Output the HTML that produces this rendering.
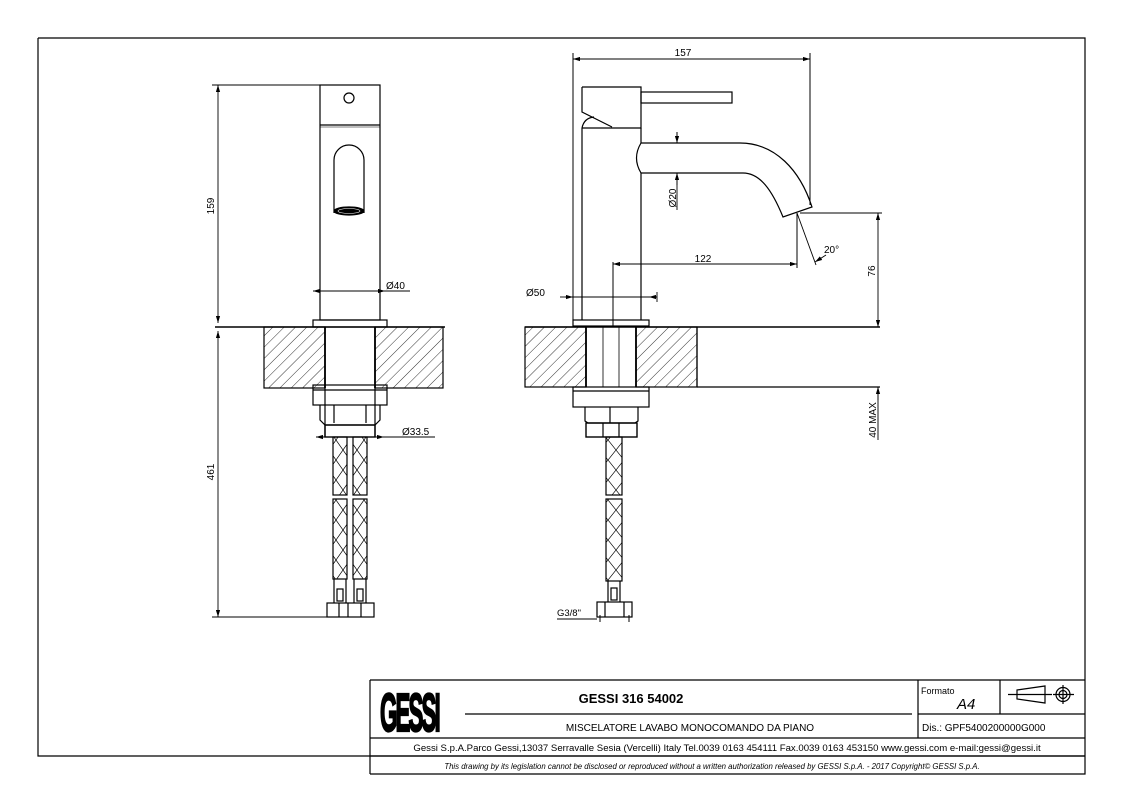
<!DOCTYPE html>
<html><head><meta charset="utf-8"><style>
html,body{margin:0;padding:0;background:#fff;}
svg{display:block;font-family:"Liberation Sans",Arial,sans-serif;}
</style></head><body>
<svg width="1123" height="794" viewBox="0 0 1123 794" xmlns="http://www.w3.org/2000/svg">
<defs>
<pattern id="h" width="8" height="8" patternUnits="userSpaceOnUse" patternTransform="rotate(45)">
<line x1="0" y1="0" x2="0" y2="8" stroke="#000" stroke-width="0.8"/>
</pattern>
<pattern id="br" width="14" height="20" patternUnits="userSpaceOnUse">
<path d="M0 0 L14 20 M14 0 L0 20" stroke="#000" stroke-width="0.7" fill="none"/>
</pattern>
<pattern id="br2" width="16" height="20" patternUnits="userSpaceOnUse">
<path d="M0 0 L16 20 M16 0 L0 20" stroke="#000" stroke-width="0.7" fill="none"/>
</pattern>
<marker id="a" viewBox="0 0 10 6" refX="10" refY="3" markerWidth="8" markerHeight="5" orient="auto-start-reverse"><path d="M0 0 L10 3 L0 6 Z" fill="#000"/></marker>
</defs>
<g fill="none" stroke="#000" stroke-width="1.2">
<!-- frame -->
<path d="M38 38 H1085 V774 H370 M38 38 V756 H1085"/>
<!-- title block -->
<path d="M370 680 H1085 M370 680 V774 M370 738 H1085 M370 756 H1085 M918 680 V738 M918 714 H1085 M1000 680 V714"/>
<path d="M465 714 H912" />
<!-- icon -->
<path d="M1017 690 L1045 686 V703 L1017 699 Z M1008 694.5 H1052"/>
<circle cx="1063" cy="694.5" r="7"/><circle cx="1063" cy="694.5" r="4"/>
<path d="M1053 694.5 H1074 M1063 685 V704"/>

<!-- LEFT VIEW -->
<rect x="320" y="85" width="60" height="235"/>
<path d="M320 125 H380"/>
<path d="M320 127 H380" stroke-width="0.6"/>
<circle cx="349" cy="98" r="5"/>
<path d="M334 213 V160 A15 15 0 0 1 364 160 V213"/>
<ellipse cx="349" cy="211" rx="15" ry="4" fill="#000"/>
<ellipse cx="349" cy="211" rx="11" ry="2.5" stroke="#fff" stroke-width="0.6"/>
<rect x="313" y="320" width="74" height="7"/>
<path d="M215 327 H445" stroke-width="1.5"/>
<rect x="264" y="327" width="61" height="61" fill="url(#h)"/>
<rect x="375" y="327" width="68" height="61" fill="url(#h)"/>
<path d="M325 327 V388 M375 327 V388" stroke-width="1.8"/>
<rect x="313" y="385" width="74" height="20"/>
<path d="M313 390 H387 M325 385 V437 M375 385 V437"/>
<path d="M320 405 V420 L325 425 H375 L380 420 V405 M334 405 V423 M366 405 V423"/>
<rect x="325" y="425" width="50" height="12" stroke-width="1.4"/>
<rect x="333" y="437" width="14" height="58" fill="url(#br)"/>
<rect x="353" y="437" width="14" height="58" fill="url(#br)"/>
<rect x="333" y="499" width="14" height="80" fill="url(#br)"/>
<rect x="353" y="499" width="14" height="80" fill="url(#br)"/>
<path d="M334 579 V603 M346 579 V603 M354 579 V603 M366 579 V603"/>
<rect x="337" y="589" width="6" height="12"/><rect x="357" y="589" width="6" height="12"/>
<rect x="327" y="603" width="47" height="14"/>
<path d="M339 603 V617 M348 603 V617 M361 603 V617"/>
<!-- left dims -->
<path d="M212 85 H320 M212 617 H327" stroke-width="1"/>
<path d="M218 85 V323" marker-start="url(#a)" marker-end="url(#a)" stroke-width="0.9"/>
<path d="M218 331 V617" marker-start="url(#a)" marker-end="url(#a)" stroke-width="0.9"/>
<path d="M313 291 H385" marker-start="url(#a)" marker-end="url(#a)" stroke-width="0.9"/>
<path d="M385 291 H410" stroke-width="0.9"/>
<path d="M316 437 H384" marker-start="url(#a)" marker-end="url(#a)" stroke-width="0.9"/>
<path d="M384 437 H435" stroke-width="0.9"/>

<!-- RIGHT VIEW -->
<path d="M582 128 V320 M641 128 V143 M641 173 V320"/>
<path d="M582 87 H641 V128 H582 M582 87 V112 L612 127"/>
<path d="M582 128 Q584 118 594 117"/>
<rect x="641" y="92" width="91" height="11"/>
<path d="M641 143 H740 C775 143 800 170 812 207 L783 217 C772 190 760 173 743 173 H641"/>
<path d="M641 143 Q632 158 641 173"/>
<rect x="573" y="320" width="76" height="6"/>
<path d="M525 327 H880" stroke-width="1.5"/>
<path d="M697 387 H880 M697 327 V387"/>
<rect x="525" y="327" width="61" height="60" fill="url(#h)"/>
<rect x="636" y="327" width="61" height="60" fill="url(#h)"/>
<path d="M586 327 V387 M636 327 V387" stroke-width="1.8"/>
<path d="M603 327 V387 M619 327 V387" stroke-width="0.8"/>
<rect x="573" y="387" width="76" height="20"/>
<path d="M573 391 H649"/>
<path d="M585 407 V421 L588 423 H635 L638 421 V407 M610 407 V423"/>
<rect x="586" y="423" width="51" height="14" stroke-width="1.4"/>
<path d="M603 423 V437 M619 423 V437"/>
<rect x="606" y="437" width="16" height="58" fill="url(#br2)"/>
<rect x="606" y="499" width="16" height="82" fill="url(#br2)"/>
<path d="M608 581 V602 M620 581 V602"/>
<rect x="611" y="588" width="6" height="12"/>
<rect x="597" y="602" width="35" height="15"/>
<path d="M605 602 V617 M624 602 V617"/>
<path d="M557 619 H597 M600 615 V622 M629 615 V622" stroke-width="1"/>
<!-- right dims -->
<path d="M573 53 V320 M810 53 V205" stroke-width="1"/>
<path d="M573 59 H810" marker-start="url(#a)" marker-end="url(#a)" stroke-width="0.9"/>
<path d="M677 132 V143 M677 173 V210" stroke-width="0.9"/>
<path d="M677 132 V143" marker-end="url(#a)" stroke-width="0.9"/>
<path d="M677 185 V173" marker-end="url(#a)" stroke-width="0.9"/>
<path d="M613 262 V327 M797 213 V268" stroke-width="1"/>
<path d="M613 264 H797" marker-start="url(#a)" marker-end="url(#a)" stroke-width="0.9"/>
<path d="M797 213 L816 265" stroke-width="0.9"/>
<path d="M826 255 L815 262" marker-end="url(#a)" stroke-width="0.9"/>
<path d="M800 213 H882" stroke-width="1"/>
<path d="M878 213 V327" marker-start="url(#a)" marker-end="url(#a)" stroke-width="0.9"/>
<path d="M878 387 V440" stroke-width="0.9"/>
<path d="M878 400 V387" marker-end="url(#a)" stroke-width="0.9"/>
<path d="M565 297 H657" stroke-width="0.9"/>
<path d="M560 297 H573" marker-end="url(#a)" stroke-width="0.9"/>
<path d="M657 297 H649" marker-end="url(#a)" stroke-width="0.9"/>
<path d="M657 292 V302" stroke-width="0.9"/>
</g>
<g font-size="10" fill="#000">
<text x="683" y="56" text-anchor="middle">157</text>
<text x="703" y="262" text-anchor="middle">122</text>
<text x="824" y="253">20°</text>
<text x="526" y="296">Ø50</text>
<text x="386" y="289">Ø40</text>
<text x="402" y="435">Ø33.5</text>
<text x="557" y="616" font-size="9.5">G3/8"</text>
<text transform="translate(214,206) rotate(-90)" text-anchor="middle">159</text>
<text transform="translate(214,472) rotate(-90)" text-anchor="middle">461</text>
<text transform="translate(875,271) rotate(-90)" text-anchor="middle">76</text>
<text transform="translate(876,420) rotate(-90)" text-anchor="middle">40 MAX</text>
<text transform="translate(676,198) rotate(-90)" text-anchor="middle">Ø20</text>
<text x="631" y="703" font-size="13" font-weight="bold" text-anchor="middle">GESSI 316 54002</text>
<text x="690" y="731" font-size="10" text-anchor="middle">MISCELATORE LAVABO MONOCOMANDO DA PIANO</text>
<text x="921" y="694" font-size="9">Formato</text>
<text x="957" y="709" font-size="15" font-style="italic">A4</text>
<text x="922" y="731" font-size="10">Dis.: GPF5400200000G000</text>
<text x="727" y="751" font-size="9.6" text-anchor="middle">Gessi S.p.A.Parco Gessi,13037 Serravalle Sesia (Vercelli) Italy Tel.0039 0163 454111 Fax.0039 0163 453150 www.gessi.com e-mail:gessi@gessi.it</text>
<text x="712" y="769" font-size="7.8" font-style="italic" text-anchor="middle">This drawing by its legislation cannot be disclosed or reproduced without a written authorization released by GESSI S.p.A. - 2017 Copyright© GESSI S.p.A.</text>
<text x="0" y="0" font-size="36" font-weight="bold" stroke="#000" stroke-width="1.5" letter-spacing="-3" transform="translate(380,731) scale(0.62,1.5)">GESSI</text>
</g>
</svg>
</body></html>
